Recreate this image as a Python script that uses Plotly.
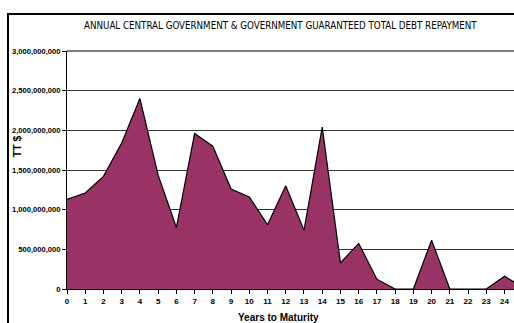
import plotly.graph_objects as go

years = list(range(0, 26))
repayment_bn = [1.13, 1.21, 1.42, 1.84, 2.40, 1.435, 0.775, 1.96, 1.80, 1.26,
                1.16, 0.81, 1.30, 0.74, 2.04, 0.33, 0.574, 0.124, 0.0, 0.0,
                0.615, 0.0, 0.0, 0.0, 0.161, 0.02]
values = [v * 1e9 for v in repayment_bn]
tick_years = list(range(0, 25))
y_ticks = [0, 5e8, 1e9, 1.5e9, 2e9, 2.5e9, 3e9]
y_tick_text = ["0", "500,000,000", "1,000,000,000", "1,500,000,000",
               "2,000,000,000", "2,500,000,000", "3,000,000,000"]

FONT = "Liberation Sans, Arial, sans-serif"
TITLE_FONT = "DejaVu Sans Condensed, Liberation Sans, Arial, sans-serif"

fig = go.Figure()
fig.add_trace(go.Scatter(
    x=years, y=values, mode="lines", fill="tozeroy",
    fillcolor="#993366", line=dict(color="black", width=1.2),
    hoverinfo="skip", showlegend=False))

W, H = 514, 323
L, T, B = 67, 51, 34
pw = W - L
ph = H - T - B

fig.update_layout(
    width=W, height=H,
    margin=dict(l=L, r=0, t=T, b=B),
    paper_bgcolor="white", plot_bgcolor="white",
    font=dict(family=FONT, color="black"),
    xaxis=dict(range=[0, 24.52], tickmode="array", tickvals=tick_years,
               ticktext=[str(t) for t in tick_years],
               showgrid=False, zeroline=False, showline=True,
               linecolor="black", linewidth=1, ticks="outside", ticklen=4,
               tickcolor="black", tickfont=dict(size=8, family=FONT, weight="bold")),
    yaxis=dict(range=[0, 3e9], tickmode="array", tickvals=y_ticks,
               ticktext=y_tick_text, showgrid=True, gridcolor="#333333",
               gridwidth=1, zeroline=False, showline=True, linecolor="black",
               linewidth=1, ticks="outside", ticklen=4, tickcolor="black",
               tickfont=dict(size=7.6, family=FONT, weight="bold")),
)

# top border of plot area
fig.add_shape(type="line", xref="paper", yref="paper", x0=0, x1=1.05, y0=1, y1=1,
              line=dict(color="black", width=1.2))
# outer chart border
fig.add_shape(type="rect", xref="paper", yref="paper",
              x0=(8 - L) / pw, x1=1.2, y0=-0.5, y1=1 + (T - 14) / ph,
              line=dict(color="black", width=2))

fig.add_annotation(text="ANNUAL CENTRAL GOVERNMENT &amp; GOVERNMENT GUARANTEED TOTAL DEBT REPAYMENT",
                   xref="paper", yref="paper", x=(280 - L) / pw, y=1 + (T - 26) / ph,
                   xanchor="center", yanchor="middle", showarrow=False,
                   font=dict(size=9.7, family=TITLE_FONT, color="black"))
fig.add_annotation(text="<b>TT $</b>", textangle=-90,
                   xref="paper", yref="paper", x=(17 - L) / pw, y=(288.8 - 146) / ph,
                   xanchor="center", yanchor="middle", showarrow=False,
                   font=dict(size=10.5, family=FONT, color="black"))
fig.add_annotation(text="<b>Years to Maturity</b>",
                   xref="paper", yref="paper", x=(278 - L) / pw, y=(288.8 - 317.5) / ph,
                   xanchor="center", yanchor="middle", showarrow=False,
                   font=dict(size=10, family=FONT, color="black"))

fig.write_html("out.html")
